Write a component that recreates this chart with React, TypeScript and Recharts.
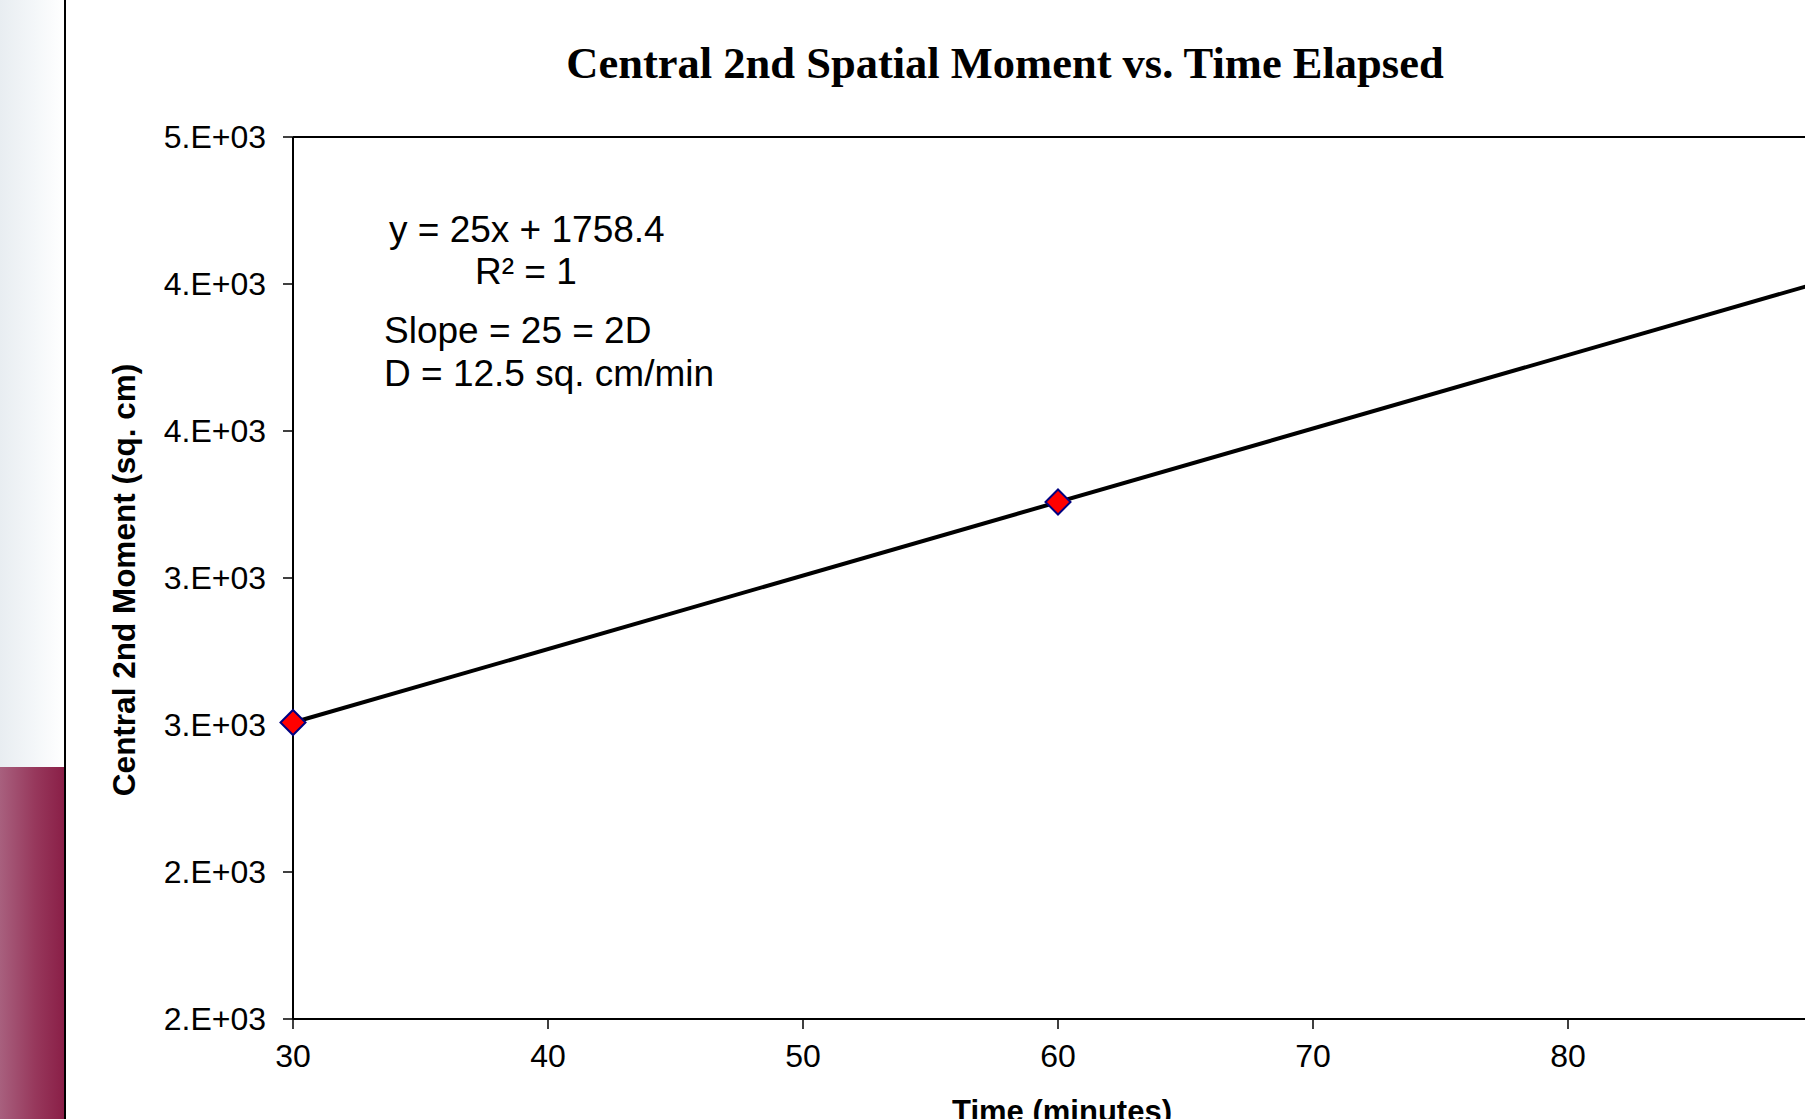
import React from 'react';
import { ComposedChart, Line, Scatter, XAxis, YAxis, ReferenceLine } from 'recharts';

// measured points (minutes, sq. cm)
const times = [30, 60];
const moments = [2508.4, 3258.4];

// linear trendline (runs past the right edge)
const trendTimes = [30, 90];
const trendMoments = [2508.4, 4008.4];

const xTicks = [30, 40, 50, 60, 70, 80, 90];
const yTicks = [1500, 2000, 2500, 3000, 3500, 4000, 4500];
const yTickLabels = ['2.E+03', '2.E+03', '3.E+03', '3.E+03', '4.E+03', '4.E+03', '5.E+03'];

const measured = times.map((t, i) => ({ x: t, y: moments[i] }));
const trend = trendTimes.map((t, i) => ({ x: t, y: trendMoments[i] }));

const SANS = '"Liberation Sans", Arial, sans-serif';
const SERIF = '"Liberation Serif", "Times New Roman", serif';

const Diamond = (props: any) => {
  const { cx, cy } = props;
  const r = 12.5;
  return (
    <polygon
      points={`${cx},${cy - r} ${cx + r},${cy} ${cx},${cy + r} ${cx - r},${cy}`}
      fill="#ff0000"
      stroke="#000080"
      strokeWidth={2}
    />
  );
};

const App = () => {
  return (
    <div
      style={{
        position: 'fixed',
        left: 0,
        top: 0,
        width: 1805,
        height: 1119,
        overflow: 'hidden',
        background: '#ffffff',
      }}
    >
      <ComposedChart
        width={1843}
        height={1119}
        margin={{ top: 137, right: 20, left: 70, bottom: 40 }}
      >
        <XAxis
          type="number"
          dataKey="x"
          domain={[30, 90]}
          ticks={xTicks}
          height={60}
          tick={{ fill: '#000', fontSize: 32, fontFamily: SANS }}
          tickSize={10}
          tickMargin={15}
          axisLine={{ stroke: '#000', strokeWidth: 2 }}
          tickLine={{ stroke: '#000', strokeWidth: 1.5 }}
        />
        <YAxis
          type="number"
          dataKey="y"
          domain={[1500, 4500]}
          ticks={yTicks}
          width={223}
          tickFormatter={(_v: number, i: number) => yTickLabels[i]}
          tick={{ fill: '#000', fontSize: 32, fontFamily: SANS }}
          tickSize={10}
          tickMargin={17}
          axisLine={{ stroke: '#000', strokeWidth: 2 }}
          tickLine={{ stroke: '#000', strokeWidth: 1.5 }}
        />
        <ReferenceLine y={4500} stroke="#000" strokeWidth={2} />
        <ReferenceLine x={90} stroke="#000" strokeWidth={2} />
        <Scatter
          data={measured}
          dataKey="y"
          shape={Diamond}
          isAnimationActive={false}
        />
        <Line
          data={trend}
          dataKey="y"
          type="linear"
          stroke="#000"
          strokeWidth={4}
          dot={false}
          activeDot={false}
          isAnimationActive={false}
        />
      </ComposedChart>

      {/* titles and the equation box */}
      <svg
        width={1805}
        height={1119}
        style={{ position: 'absolute', left: 0, top: 0, pointerEvents: 'none' }}
      >
        <text
          x={1005}
          y={78}
          textAnchor="middle"
          fontFamily={SERIF}
          fontWeight="bold"
          fontSize={44.5}
          fill="#000"
        >
          Central 2nd Spatial Moment vs. Time Elapsed
        </text>
        <text
          x={124}
          y={580}
          transform="rotate(-90 124 580)"
          textAnchor="middle"
          dominantBaseline="central"
          fontFamily={SANS}
          fontWeight="bold"
          fontSize={31.5}
          fill="#000"
        >
          Central 2nd Moment (sq. cm)
        </text>
        <text
          x={1062}
          y={1122}
          textAnchor="middle"
          fontFamily={SANS}
          fontWeight="bold"
          fontSize={31}
          fill="#000"
        >
          Time (minutes)
        </text>
        <g fontFamily={SANS} fontSize={37} fill="#000">
          <text x={389} y={242}>y = 25x + 1758.4</text>
          <text x={475} y={284}>R² = 1</text>
          <text x={384} y={343}>Slope = 25 = 2D</text>
          <text x={384} y={386}>D = 12.5 sq. cm/min</text>
        </g>
      </svg>

      {/* slide edge on the left */}
      <div
        style={{
          position: 'absolute',
          left: 0,
          top: 0,
          width: 64,
          height: 767,
          background: 'linear-gradient(to right, #e8edf1, #f4f7f9 55%, #ffffff)',
        }}
      />
      <div
        style={{
          position: 'absolute',
          left: 0,
          top: 767,
          width: 64,
          height: 352,
          background: 'linear-gradient(to right, #a8607e, #97385c 55%, #8a1f47)',
        }}
      />
      <div
        style={{
          position: 'absolute',
          left: 64,
          top: 0,
          width: 2,
          height: 1119,
          background: '#000',
        }}
      />
    </div>
  );
};

export default App;
